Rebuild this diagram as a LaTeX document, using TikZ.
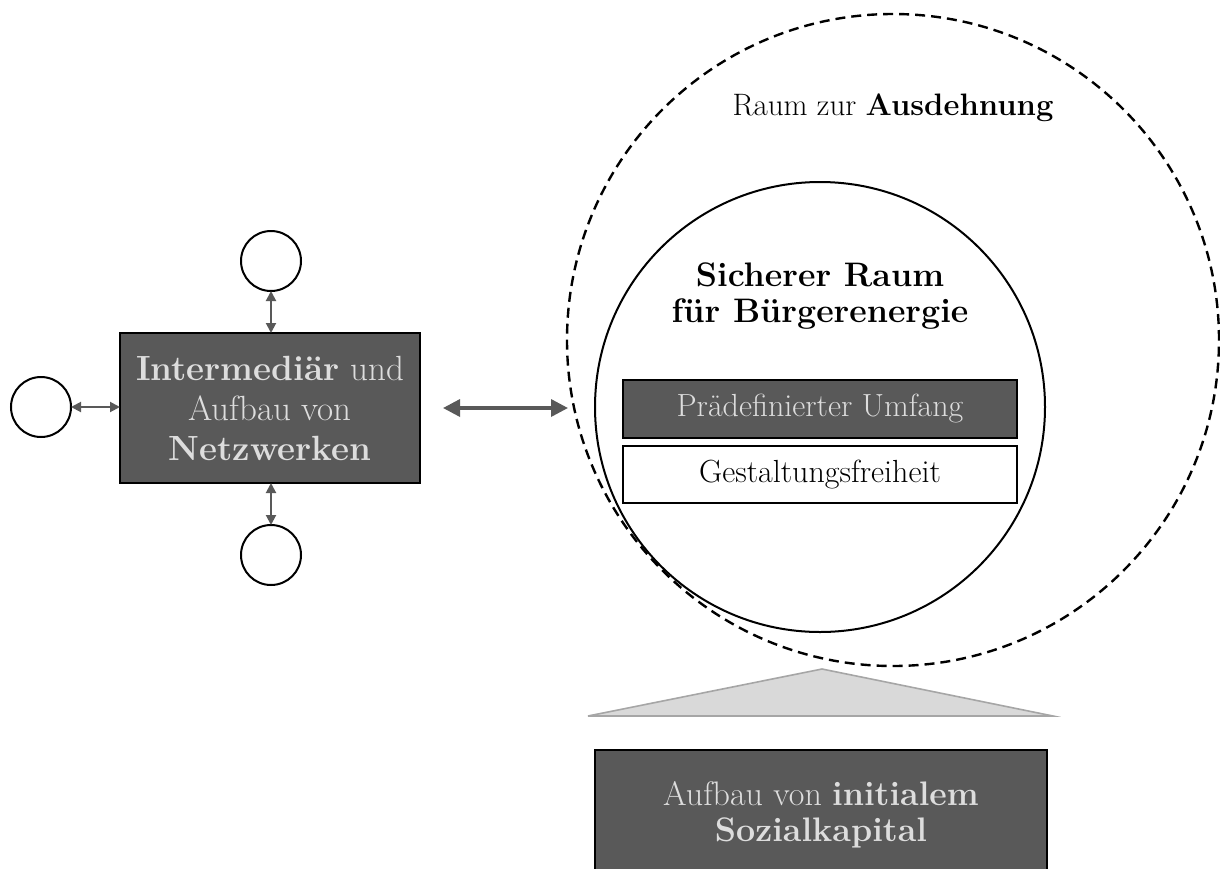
\documentclass[tikz,border=0pt]{standalone}
\usepackage{fontspec}
\usetikzlibrary{arrows.meta}
\definecolor{darkfill}{HTML}{595959}
\definecolor{lighttext}{HTML}{DDDDDD}
\definecolor{arrowgray}{HTML}{595959}
\definecolor{trifill}{HTML}{D9D9D9}
\definecolor{tristroke}{HTML}{A6A6A6}
\begin{document}
\begin{tikzpicture}[x=0.5pt,y=-0.5pt,
  darkbox/.style={draw=black,line width=0.9pt,fill=darkfill,text=lighttext,inner sep=0pt,outer sep=0pt,align=center},
  whitebox/.style={draw=black,line width=0.9pt,fill=white,inner sep=0pt,outer sep=0pt,align=center},
  satellite/.style={circle,draw=black,line width=1pt,minimum size=30pt,inner sep=0pt,outer sep=0pt},
  smallarrow/.style={draw=arrowgray,line width=1pt,{Triangle[length=5pt,width=5pt]}-{Triangle[length=5pt,width=5pt]}},
  bigarrow/.style={draw=arrowgray,line width=1.7pt,{Triangle[length=8.5pt,width=8.5pt]}-{Triangle[length=8.5pt,width=8.5pt]}},
  bigtext/.style={font=\fontsize{17}{18}\selectfont},
  regtext/.style={font=\fontsize{16}{18}\selectfont},
]
\useasboundingbox (0,0) rectangle (1220,868);
\clip (0,0) rectangle (1220,868);

% circles on the right
\node[circle,draw=black,line width=1.2pt,dash pattern=on 5pt off 3pt,minimum size=326pt,inner sep=0pt] (outer) at (893,340) {};
\node[circle,draw=black,line width=1pt,minimum size=225pt,inner sep=0pt] (inner) at (820,407) {};

% left network box
\node[darkbox,minimum width=150pt,minimum height=75pt,font=\fontsize{17.5}{20}\selectfont] (netz) at (270,408)
  {\textbf{Intermediär} und\\Aufbau von\\\textbf{Netzwerken}};
\node[satellite] (ctop) at (271,261) {};
\node[satellite] (cbot) at (271,555) {};
\node[satellite] (cleft) at (41,407) {};
\draw[smallarrow] (ctop.south) -- (ctop.south |- netz.north);
\draw[smallarrow] (cbot.north) -- (cbot.north |- netz.south);
\draw[smallarrow] (cleft.east) -- (cleft.east -| netz.west);

% big arrow
\coordinate (bigR) at (568,408);
\draw[bigarrow] ([xshift=11.5pt]netz.east) -- (bigR);

% texts in circles
\node[font=\fontsize{15.5}{18}\selectfont] (raum) at (893,108) {Raum zur \textbf{Ausdehnung}};
\node[bigtext,align=center] (head) at (820,296) {\textbf{Sicherer Raum}\\\textbf{für Bürgerenergie}};
\node[darkbox,regtext,minimum width=197pt,minimum height=29pt] (pre) at (820,409) {Prädefinierter Umfang};
\node[whitebox,regtext,minimum width=197pt,minimum height=28.5pt] (gest) at (820,474.5) {Gestaltungsfreiheit};

% triangle
\coordinate (tA) at (822,669);
\coordinate (tL) at (588,716);
\coordinate (tR) at (1053,716);
\draw[fill=trifill,draw=tristroke,line width=0.8pt] (tA) -- (tR) -- (tL) -- cycle;

% bottom box
\node[darkbox,bigtext,minimum width=226pt,minimum height=65pt] (sozial) at (821,815)
  {Aufbau von \textbf{initialem}\\\textbf{Sozialkapital}};
\end{tikzpicture}
\end{document}
